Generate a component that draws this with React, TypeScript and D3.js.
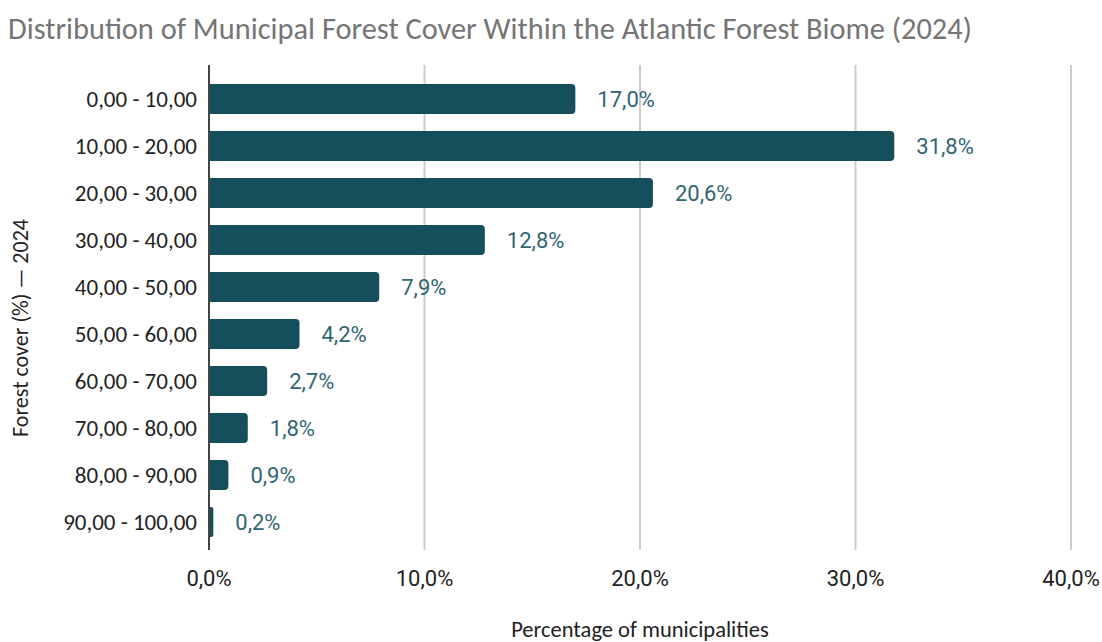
import React from "react";
import * as d3 from "d3";

const categories = [
  "0,00 - 10,00",
  "10,00 - 20,00",
  "20,00 - 30,00",
  "30,00 - 40,00",
  "40,00 - 50,00",
  "50,00 - 60,00",
  "60,00 - 70,00",
  "70,00 - 80,00",
  "80,00 - 90,00",
  "90,00 - 100,00",
];
const values = [17.0, 31.8, 20.6, 12.8, 7.9, 4.2, 2.7, 1.8, 0.9, 0.2];
const xTicks = [0, 10, 20, 30, 40];

const W = 1102;
const H = 642;
const plotLeft = 209;
const plotRight = 1071;
const plotTop = 65;
const plotBottom = 550;

const fmt = (v: number, d = 1) => v.toFixed(d).replace(".", ",");

function barPath(x0: number, y: number, w: number, h: number, r: number) {
  const rr = Math.min(r, w / 2, h / 2);
  const x1 = x0 + w;
  return `M${x0},${y}H${x1 - rr}Q${x1},${y} ${x1},${y + rr}V${y + h - rr}Q${x1},${y + h} ${x1 - rr},${y + h}H${x0}Z`;
}

export default function App() {
  const x = d3.scaleLinear().domain([0, 40]).range([plotLeft, plotRight]);
  const y = d3
    .scaleBand<string>()
    .domain(categories)
    .range([75.5, 545.5])
    .paddingInner(0.36)
    .paddingOuter(0.18);
  const bh = y.bandwidth();
  const calibri = "Carlito, Lato, 'Open Sans', sans-serif";
  const roboto = "Roboto, sans-serif";
  return (
    <svg width={W} height={H} style={{ position: "absolute", left: 0, top: 0, background: "#fff" }}>
      <text x={8} y={39} fontFamily={calibri} fontSize={30.4} fill="#757575">
        Distribution of Municipal Forest Cover Within the Atlantic Forest Biome (2024)
      </text>
      {xTicks.map((t) => (
        <line key={t} x1={x(t)} x2={x(t)} y1={plotTop} y2={plotBottom} stroke="#cccccc" strokeWidth={2} />
      ))}
      {categories.map((c, i) => {
        const yy = y(c)!;
        const w = x(values[i]) - x(0);
        return (
          <g key={c}>
            <path d={barPath(x(0), yy, w, bh, 4)} fill="#164f5c" />
            <text
              x={x(values[i]) + 22}
              y={yy + bh / 2}
              dy="0.35em"
              fontFamily={roboto}
              fontSize={22}
              fill="#2f6672"
            >
              {fmt(values[i])}%
            </text>
            <text
              x={197}
              y={yy + bh / 2}
              dy="0.35em"
              textAnchor="end"
              fontFamily={calibri}
              fontSize={23}
              fill="#222"
            >
              {c}
            </text>
          </g>
        );
      })}
      <line x1={plotLeft} x2={plotLeft} y1={plotTop} y2={plotBottom} stroke="#444" strokeWidth={2} />
      {xTicks.map((t) => (
        <text
          key={"l" + t}
          x={x(t)}
          y={578}
          dy="0.35em"
          textAnchor="middle"
          fontFamily={roboto}
          fontSize={22}
          fill="#222"
        >
          {fmt(t)}%
        </text>
      ))}
      <text x={640} y={637} textAnchor="middle" fontFamily={calibri} fontSize={22.5} fill="#222">
        Percentage of municipalities
      </text>
      <text
        transform={`translate(28,328) rotate(-90)`}
        textAnchor="middle"
        fontFamily={calibri}
        fontSize={22}
        fill="#222"
      >
        Forest cover (%) — 2024
      </text>
    </svg>
  );
}
